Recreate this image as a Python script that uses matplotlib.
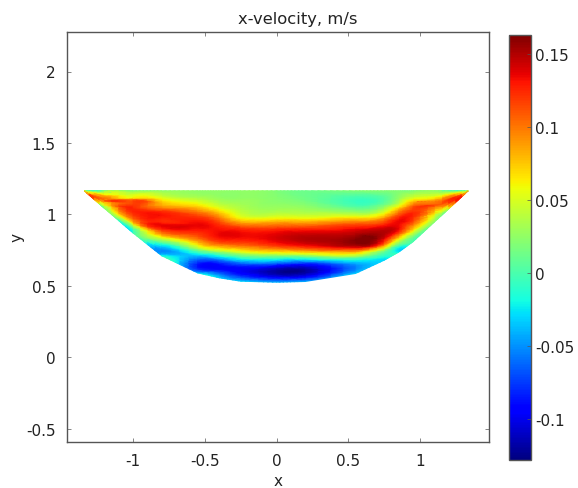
import matplotlib
matplotlib.use('Agg')
import matplotlib.pyplot as plt
import matplotlib.tri as mtri
import numpy as np

# stations across the channel, bed height at each one
x_stations = [-1.2, -1.0, -0.8, -0.55, -0.4, -0.25, 0.0, 0.2, 0.55, 0.75, 0.85, 0.95, 1.15]
y_bed = [1.043, 0.87, 0.71, 0.59, 0.556, 0.532, 0.525, 0.53, 0.586, 0.679, 0.735, 0.808, 0.993]
y_surface = 1.165

# the two corners where surface meets bed
x_tips = [-1.34, 1.335]
u_tips = [0.015, 0.015]

# fraction of depth below the surface
depth_frac = [0.0, 0.1, 0.2, 0.3, 0.4, 0.5, 0.6, 0.7, 0.8, 0.9, 1.0]

# x-velocity, one list per station, surface to bed
u_b = [0.02, 0.04, 0.06, 0.085, 0.10, 0.105, 0.095, 0.07, 0.05, 0.025, 0.01]
u_c = [0.02, 0.05, 0.09, 0.115, 0.125, 0.125, 0.115, 0.095, 0.05, 0.0, -0.01]
u_d = [0.025, 0.05, 0.08, 0.115, 0.13, 0.13, 0.12, 0.07, 0.0, -0.05, -0.02]
u_e = [0.025, 0.04, 0.075, 0.115, 0.135, 0.125, 0.095, 0.035, -0.04, -0.085, -0.03]
u_n = [0.025, 0.03, 0.055, 0.095, 0.125, 0.135, 0.11, 0.03, -0.06, -0.09, -0.03]
u_f = [0.025, 0.027, 0.038, 0.06, 0.115, 0.135, 0.105, 0.03, -0.06, -0.095, -0.03]
u_g = [0.02, 0.022, 0.03, 0.06, 0.115, 0.14, 0.12, 0.035, -0.07, -0.12, -0.04]
u_h = [0.012, 0.015, 0.028, 0.058, 0.115, 0.148, 0.135, 0.045, -0.075, -0.12, -0.04]
u_i = [0.02, -0.005, 0.005, 0.05, 0.11, 0.145, 0.162, 0.125, 0.02, -0.05, -0.03]
u_j = [0.02, 0.005, 0.015, 0.05, 0.095, 0.13, 0.15, 0.135, 0.08, 0.0, -0.03]
u_o = [0.02, 0.025, 0.04, 0.08, 0.115, 0.135, 0.135, 0.11, 0.055, -0.005, -0.02]
u_k = [0.02, 0.04, 0.075, 0.105, 0.12, 0.125, 0.115, 0.09, 0.055, 0.015, 0.0]
u_l = [0.02, 0.035, 0.06, 0.085, 0.105, 0.11, 0.10, 0.075, 0.05, 0.025, 0.01]

x_ticks = [-1, -0.5, 0, 0.5, 1]
x_labels = ['-1', '-0.5', '0', '0.5', '1']
y_ticks = [-0.5, 0, 0.5, 1, 1.5, 2]
y_labels = ['-0.5', '0', '0.5', '1', '1.5', '2']
cb_ticks = [-0.1, -0.05, 0, 0.05, 0.1, 0.15]
cb_labels = ['-0.1', '-0.05', '0', '0.05', '0.1', '0.15']

u = np.array([u_b, u_c, u_d, u_e, u_n, u_f, u_g, u_h, u_i, u_j, u_o, u_k, u_l]).T
frac = np.array(depth_frac)

X, F = np.meshgrid(np.array(x_stations), frac)
Y = y_surface - F * (y_surface - np.array(y_bed))

px = np.concatenate([X.ravel(), x_tips])
py = np.concatenate([Y.ravel(), [y_surface, y_surface]])
pu = np.concatenate([u.ravel(), u_tips])

# let matplotlib smooth the field over the section
tri = mtri.Triangulation(px, py)
refiner = mtri.UniformTriRefiner(tri)
tri_fine, u_fine = refiner.refine_field(pu, subdiv=3)

plt.rcParams['font.size'] = 11
plt.rcParams['axes.linewidth'] = 1.0
plt.rcParams['text.color'] = '#222222'
plt.rcParams['axes.labelcolor'] = '#222222'
plt.rcParams['xtick.labelcolor'] = '#222222'
plt.rcParams['ytick.labelcolor'] = '#222222'
plt.rcParams['axes.edgecolor'] = '#555555'

fig = plt.figure(figsize=(5.78, 4.89), dpi=100)
W, H = 578.0, 489.0
ax = fig.add_axes([67 / W, 1 - 442.5 / H, 422 / W, 410 / H])
cax = fig.add_axes([509 / W, 1 - 461 / H, 22 / W, 425 / H])

pc = ax.tripcolor(tri_fine, u_fine, shading='gouraud', cmap='jet', vmin=-0.128, vmax=0.163)

ax.set_xlim(-1.46, 1.48)
ax.set_ylim(-0.59, 2.28)
ax.set_xticks(x_ticks)
ax.set_xticklabels(x_labels)
ax.set_yticks(y_ticks)
ax.set_yticklabels(y_labels)
ax.tick_params(direction='in', length=3, width=0.5, color='#555555', top=True, right=True, pad=8)
ax.set_xlabel('x', labelpad=4)
ax.set_ylabel('y', labelpad=1)
ax.set_title('x-velocity, m/s', fontsize=11.8, pad=6, x=0.547)

cb = fig.colorbar(pc, cax=cax)
cb.set_ticks(cb_ticks)
cb.set_ticklabels(cb_labels)
cb.ax.tick_params(direction='in', length=3, width=0.5, color='#555555', pad=3)

fig.savefig('out.png', dpi=100)
